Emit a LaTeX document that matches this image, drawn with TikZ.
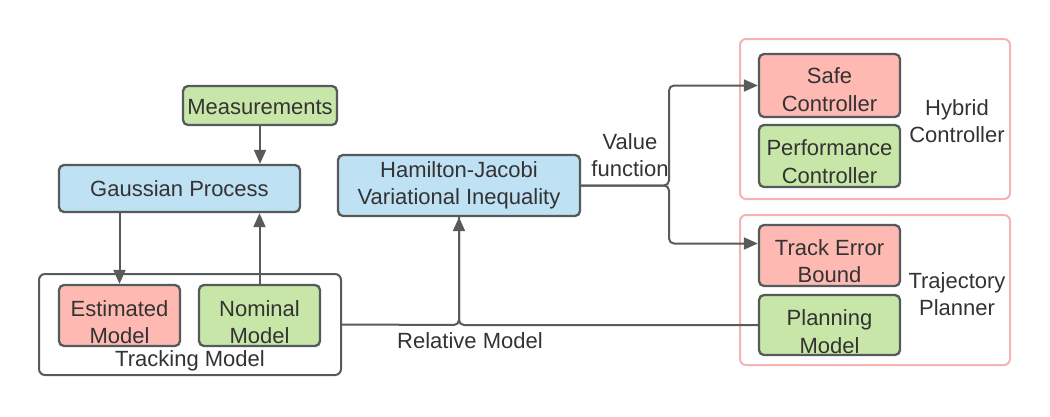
\documentclass[tikz,border=0pt]{standalone}
\usepackage{fontspec}
\setmainfont{Liberation Sans}
\usetikzlibrary{arrows.meta}
\definecolor{gfill}{HTML}{C7E6A8}
\definecolor{rfill}{HTML}{FDB9B2}
\definecolor{bfill}{HTML}{BFE1F4}
\definecolor{boxline}{HTML}{555A5C}
\definecolor{lineclr}{HTML}{5A5A5A}
\definecolor{pinkline}{HTML}{F4B4B6}
\definecolor{txt}{HTML}{333333}
\newcommand\fs{\fontsize{22}{27.5}\selectfont}
\newcommand\lowtext[2]{\raisebox{-#1}[\height][\depth]{\begin{tabular}{@{}c@{}}#2\end{tabular}}}
\tikzset{
  box/.style={draw=boxline, line width=2.3pt, rounded corners=5pt, align=center, text=txt, inner sep=0pt, font=\fs},
  gbox/.style={box, fill=gfill},
  rbox/.style={box, fill=rfill},
  bbox/.style={box, fill=bfill},
  grp/.style={draw=pinkline, line width=2pt, rounded corners=6pt, fill=white, inner sep=0pt},
  trkgrp/.style={draw=boxline, line width=2pt, rounded corners=6pt, fill=white, inner sep=0pt},
  lbl/.style={align=center, text=txt, font=\fs, inner sep=0pt},
  conn/.style={draw=lineclr, line width=2pt, rounded corners=5pt},
  arr/.style={conn, -{Triangle[length=14pt,width=12pt]}}
}
\begin{document}
\begin{tikzpicture}[x=1pt,y=-1pt]
\useasboundingbox (0,0) rectangle (1050,416);
% groups
\node[trkgrp, minimum width=302pt, minimum height=101pt] (trk) at (190,324.5) {};
\node[grp, minimum width=270pt, minimum height=160pt] (hyb) at (875,119) {};
\node[grp, minimum width=270pt, minimum height=150pt] (traj) at (875,290) {};
% boxes
\node[gbox, minimum width=154pt, minimum height=39pt] (meas) at (260,105.5) {\lowtext{3.5pt}{Measurements}};
\node[bbox, minimum width=241pt, minimum height=47pt] (gp) at (179.5,188.5) {Gaussian Process};
\node[rbox, minimum width=121pt, minimum height=61pt] (est) at (119.5,315.5) {\lowtext{9pt}{Estimated\\Model}};
\node[gbox, minimum width=121pt, minimum height=61pt] (nom) at (259.5,315.5) {\lowtext{9pt}{Nominal\\Model}};
\node[bbox, minimum width=242pt, minimum height=61pt] (hj) at (459,185.5) {Hamilton-Jacobi\\Variational Inequality};
\node[rbox, minimum width=141pt, minimum height=63pt] (safe) at (829.5,85.5) {\lowtext{6.5pt}{Safe\\Controller}};
\node[gbox, minimum width=141pt, minimum height=62pt] (perf) at (829.5,156) {\lowtext{8pt}{Performance\\Controller}};
\node[rbox, minimum width=141pt, minimum height=61pt] (teb) at (829.5,255.5) {\lowtext{8pt}{Track Error\\Bound}};
\node[gbox, minimum width=141pt, minimum height=60pt] (plan) at (829.5,325) {\lowtext{9pt}{Planning\\Model}};
% labels
\node[lbl] (trklbl) at (190,361) {Tracking Model};
\node[lbl] (hyblbl) at (957,121) {Hybrid\\Controller};
\node[lbl] (trajlbl) at (957,294) {Trajectory\\Planner};
\node[lbl] (rellbl) at (470,341) {Relative Model};
\node[lbl] (vallbl) at (630,155) {Value\\function};
% connectors
\draw[arr] (meas.south) -- (meas.south |- gp.north);
\draw[arr] (est.north |- gp.south) -- (est.north);
\draw[arr] (nom.north) -- (nom.north |- gp.south);
\coordinate (rj) at (459,325);
\draw[arr] (trk.east) -- (rj) -- (hj.south);
\draw[conn] (plan.west) -- (rj) -- (hj.south);
\coordinate (vj) at (669,185.5);
\draw[arr] (hj.east) -- (vj) -- (vj |- safe.west) -- (safe.west);
\coordinate (tebin) at ([yshift=12pt]teb.west);
\draw[arr] (hj.east) -- (vj) -- (vj |- tebin) -- (tebin);
\end{tikzpicture}
\end{document}
